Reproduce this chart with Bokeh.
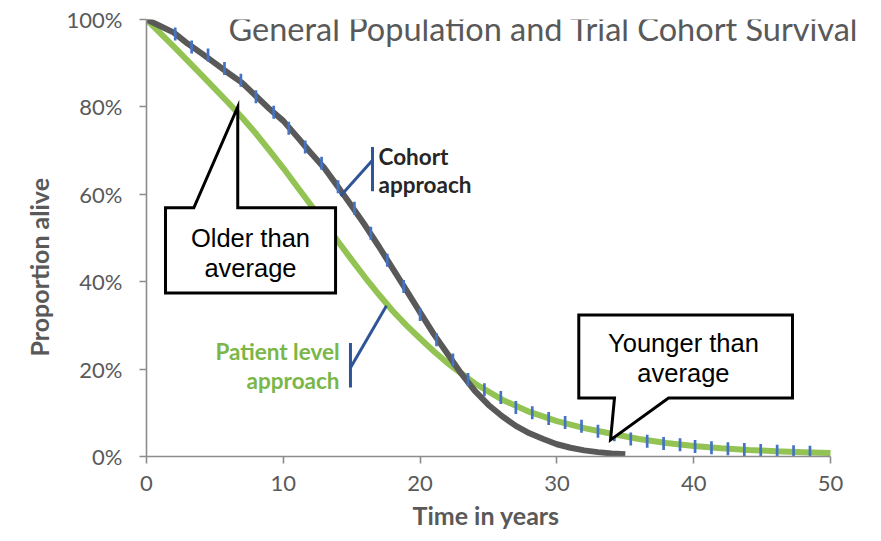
import math
from bokeh.plotting import figure
from bokeh.models import Label, Range1d, NumeralTickFormatter, FixedTicker, Title
from bokeh.embed import file_html
from bokeh.resources import INLINE

# ---- data ----
cohort_years = [0, 1, 2, 3, 4, 5, 6, 7, 8, 9, 10, 11, 12, 13, 14, 15, 16, 17, 18,
                19, 20, 21, 22, 23, 24, 25, 26, 27, 28, 29, 30, 31, 32, 33, 34, 35]
cohort_alive = [1.000, 0.985, 0.970, 0.945, 0.923, 0.900, 0.877, 0.855, 0.825, 0.795,
                0.768, 0.732, 0.695, 0.660, 0.617, 0.573, 0.528, 0.480, 0.430, 0.380,
                0.330, 0.280, 0.235, 0.190, 0.150, 0.118, 0.092, 0.070, 0.053, 0.040,
                0.028, 0.020, 0.014, 0.010, 0.007, 0.005]

patient_years = [0, 2, 4, 6, 7, 8, 9, 10, 11, 12, 13, 14, 15, 16, 17, 18, 19, 20, 21,
                 22, 24, 26, 28, 30, 32, 34, 36, 38, 40, 42, 44, 46, 48, 50]
patient_alive = [1.000, 0.938, 0.874, 0.809, 0.775, 0.739, 0.700, 0.660, 0.618, 0.576,
                 0.534, 0.492, 0.450, 0.409, 0.370, 0.333, 0.300, 0.270, 0.241, 0.214,
                 0.167, 0.130, 0.102, 0.081, 0.065, 0.052, 0.040, 0.031, 0.024, 0.019,
                 0.015, 0.012, 0.010, 0.008]

tick_years = [2.1, 3.3, 4.5, 5.7, 6.9, 8.0, 9.3, 10.4, 11.6, 12.8, 14.0, 15.2, 16.4,
              17.6, 18.8, 20.0, 21.2, 22.4, 23.5, 24.7, 25.9, 27.0, 28.2, 29.4, 30.6,
              31.8, 33.0, 34.2, 35.4, 36.6, 37.8, 39.0, 40.1, 41.3, 42.5, 43.7, 44.9,
              46.1, 47.3, 48.5]
tick_alive = [0.967, 0.937, 0.919, 0.888, 0.861, 0.823, 0.788, 0.751, 0.708, 0.671,
              0.617, 0.568, 0.511, 0.449, 0.389, 0.325, 0.267, 0.221, 0.176, 0.153,
              0.135, 0.112, 0.100, 0.087, 0.078, 0.069, 0.058, 0.050, 0.040, 0.035,
              0.030, 0.027, 0.023, 0.020, 0.018, 0.016, 0.014, 0.012, 0.011, 0.010]

x_ticks = [0, 10, 20, 30, 40, 50]
y_ticks = [0, 0.2, 0.4, 0.6, 0.8, 1.0]

title_text = "General Population and Trial Cohort Survival"
x_label = "Time in years"
y_label = "Proportion alive"

# ---- figure ----
# frame runs to the right canvas edge so the title can overhang the last tick
X_END = 50 * (865 - 146) / (830 - 146)
p = figure(width=865, height=533, output_backend="svg", toolbar_location=None,
           x_range=Range1d(0, X_END), y_range=Range1d(0, 1))
p.min_border_left = 146
p.min_border_right = 0
p.min_border_top = 19
p.min_border_bottom = 76
p.outline_line_color = None
p.xgrid.visible = False
p.ygrid.visible = False
p.background_fill_color = "white"
p.border_fill_color = "white"

AX = "#8c8c8c"
TXT = "#595959"
for ax in (p.xaxis[0], p.yaxis[0]):
    ax.axis_line_color = AX
    ax.axis_line_width = 1.6
    ax.major_tick_line_color = AX
    ax.major_tick_line_width = 1.6
    ax.major_tick_in = 0
    ax.major_tick_out = 7
    ax.minor_tick_line_color = None
    ax.major_label_text_font = "Lato"
    ax.major_label_text_font_size = "22px"
    ax.major_label_text_color = TXT

p.xaxis.ticker = FixedTicker(ticks=x_ticks)
p.yaxis.ticker = FixedTicker(ticks=y_ticks)
p.xaxis.bounds = (0, 50)
p.yaxis.formatter = NumeralTickFormatter(format="0%")
p.xaxis.major_label_standoff = 12
p.yaxis.major_label_standoff = 17

p.add_layout(Title(text=y_label, align="left", offset=100, standoff=20,
                   text_font="Lato", text_font_style="bold", text_font_size="25px",
                   text_color=TXT), "left")
p.add_layout(Title(text=x_label, align="left", offset=266, standoff=8,
                   text_font="Lato", text_font_style="bold", text_font_size="25px",
                   text_color=TXT), "below")

# ---- series ----
p.line(patient_years, patient_alive, line_color="#92C353", line_width=6)
p.line(cohort_years, cohort_alive, line_color="#595959", line_width=6)
p.scatter(tick_years, tick_alive, marker="dash", angle=math.pi / 2, size=13,
          line_color="#4472C4", line_width=2.7)

# ---- callouts ----
p.patch([1.39, 3.46, 6.67, 6.67, 13.82, 13.82, 1.39],
        [0.569, 0.569, 0.800, 0.569, 0.569, 0.374, 0.374],
        fill_color="white", line_color="black", line_width=3, line_join="miter")
p.patch([31.6, 47.22, 47.22, 38.16, 33.92, 34.21, 31.6],
        [0.324, 0.324, 0.134, 0.134, 0.038, 0.134, 0.134],
        fill_color="white", line_color="black", line_width=3, line_join="miter")

BR = "#2F5597"
p.line([16.52, 16.52], [0.708, 0.607], line_color=BR, line_width=3)
p.line([16.52, 14.18], [0.678, 0.596], line_color=BR, line_width=3)
p.line([14.91, 14.91], [0.260, 0.158], line_color=BR, line_width=3)
p.line([14.91, 17.54], [0.203, 0.345], line_color=BR, line_width=3)

def lab(x, y, t, align="center", color="black", font="Liberation Sans",
        size="25.5px", style="normal", baseline="middle"):
    p.add_layout(Label(x=x, y=y, text=t, text_align=align, text_baseline=baseline,
                       text_color=color, text_font=font, text_font_size=size,
                       text_font_style=style))

lab(7.6, 0.500, "Older than")
lab(7.6, 0.4315, "average")
lab(39.25, 0.2603, "Younger than")
lab(39.25, 0.1918, "average")
lab(16.96, 0.687, "Cohort", align="left", color="#262626", font="Lato",
    size="22.5px", style="bold")
lab(16.96, 0.623, "approach", align="left", color="#262626", font="Lato",
    size="22.5px", style="bold")
lab(14.11, 0.2397, "Patient level", align="right", color="#7AB648", font="Lato",
    size="22.5px", style="bold")
lab(14.11, 0.1735, "approach", align="right", color="#7AB648", font="Lato",
    size="22.5px", style="bold")
lab(5.99, 0.979, title_text, align="left", color=TXT, font="Lato", size="32.5px")

open("out.html", "w").write(file_html(p, INLINE))
